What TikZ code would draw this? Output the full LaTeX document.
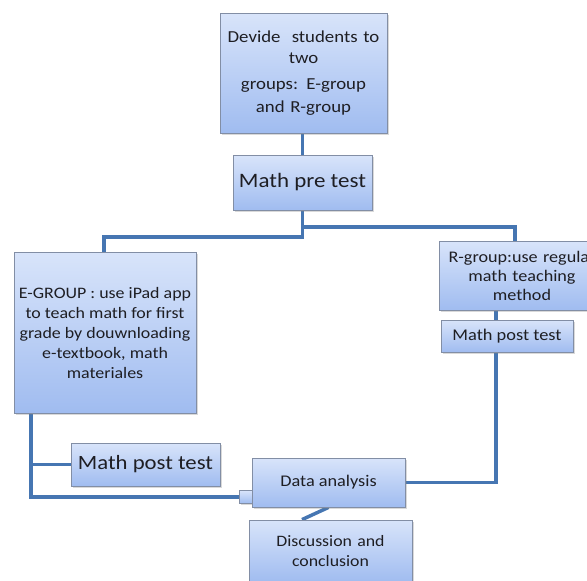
\documentclass[tikz,border=0pt]{standalone}
\usepackage{fontspec}
\setmainfont{Carlito}[FakeStretch=1.12]
\usetikzlibrary{shadows}
\definecolor{connc}{RGB}{70,118,178}
\definecolor{boxtop}{RGB}{216,228,250}
\definecolor{boxbot}{RGB}{160,188,240}
\definecolor{boxline}{RGB}{130,142,165}
\definecolor{txt}{RGB}{30,30,35}
\pgfdeclarelayer{bg}
\pgfsetlayers{bg,main}
\begin{document}
\begin{tikzpicture}[x=1pt,y=-1pt,
  box/.style={draw=boxline, line width=0.8pt, top color=boxtop, bottom color=boxbot,
    align=center, inner sep=1pt, text=txt,
    drop shadow={opacity=0.3, shadow xshift=1.5pt, shadow yshift=-1.5pt}},
  conn/.style={draw=connc, line width=3.5pt}]
\useasboundingbox (0,0) rectangle (587,581);
\clip (0,0) rectangle (587,581);

\node[box, minimum width=167pt, minimum height=120pt, text width=165pt,
  font=\fontsize{16.8}{21}\selectfont] (b1) at (303.5,73)
  {Devide~ students to\\ two\\[5pt] groups: E-group\\[2pt] and R-group};
\node[box, minimum width=139pt, minimum height=55pt,
  font=\fontsize{20.5}{24}\selectfont] (b2) at (302.5,182.5) {Math pre test};
\node[box, minimum width=182pt, minimum height=161pt,
  font=\fontsize{16}{20}\selectfont] (eg) at (105,332.5)
  {E-GROUP : use iPad app\\ to teach math for first\\ grade by douwnloading\\ e-textbook, math\\ materiales};
\node[box, minimum width=166pt, minimum height=69pt, text width=164pt,
  font=\fontsize{16.2}{19}\selectfont] (rg) at (522,275.5)
  {R-group:use regular\\ math teaching\\ method};
\node[box, minimum width=132pt, minimum height=32pt,
  font=\fontsize{16.4}{18}\selectfont] (pr) at (507,336) {Math post test};
\node[box, minimum width=149pt, minimum height=43pt,
  font=\fontsize{20.3}{22}\selectfont] (pl) at (145.5,464.5) {Math post test};
\node[box, minimum width=13pt, minimum height=13pt, inner sep=0pt] (sq) at (245.5,497) {};
\node[box, minimum width=153pt, minimum height=49pt,
  font=\fontsize{16.3}{18}\selectfont] (da) at (328.5,482.5) {Data analysis};
\node[box, minimum width=163pt, minimum height=62pt, text width=160pt,
  font=\fontsize{15.9}{20}\selectfont] (dc) at (330.5,551)
  {Discussion and\\ conclusion};

% junction coordinates
\coordinate (jl) at (104,237);
\coordinate (jr) at (515,227);
\coordinate (rx) at (496,0);
\coordinate (lx) at (31,498);
\coordinate (dx) at (302,0);

\begin{pgfonlayer}{bg}
\draw[conn] (b1.south -| b2.north) -- (b2.north);
\draw[conn] (b2.south) |- (jl) -- (eg.north -| jl);
\draw[conn] (b2.south |- jr) -- (jr) -- (rg.north -| jr);
\draw[conn] (rg.south -| rx) -- (pr.north -| rx);
\draw[conn] (pr.south -| rx) |- (da.east);
\draw[conn] (eg.south -| lx) |- (sq.west);
\draw[conn] (pl.west -| lx) -- (pl.west);
\draw[conn] (da.south) -- (dc.north -| dx);
\end{pgfonlayer}
\end{tikzpicture}
\end{document}
